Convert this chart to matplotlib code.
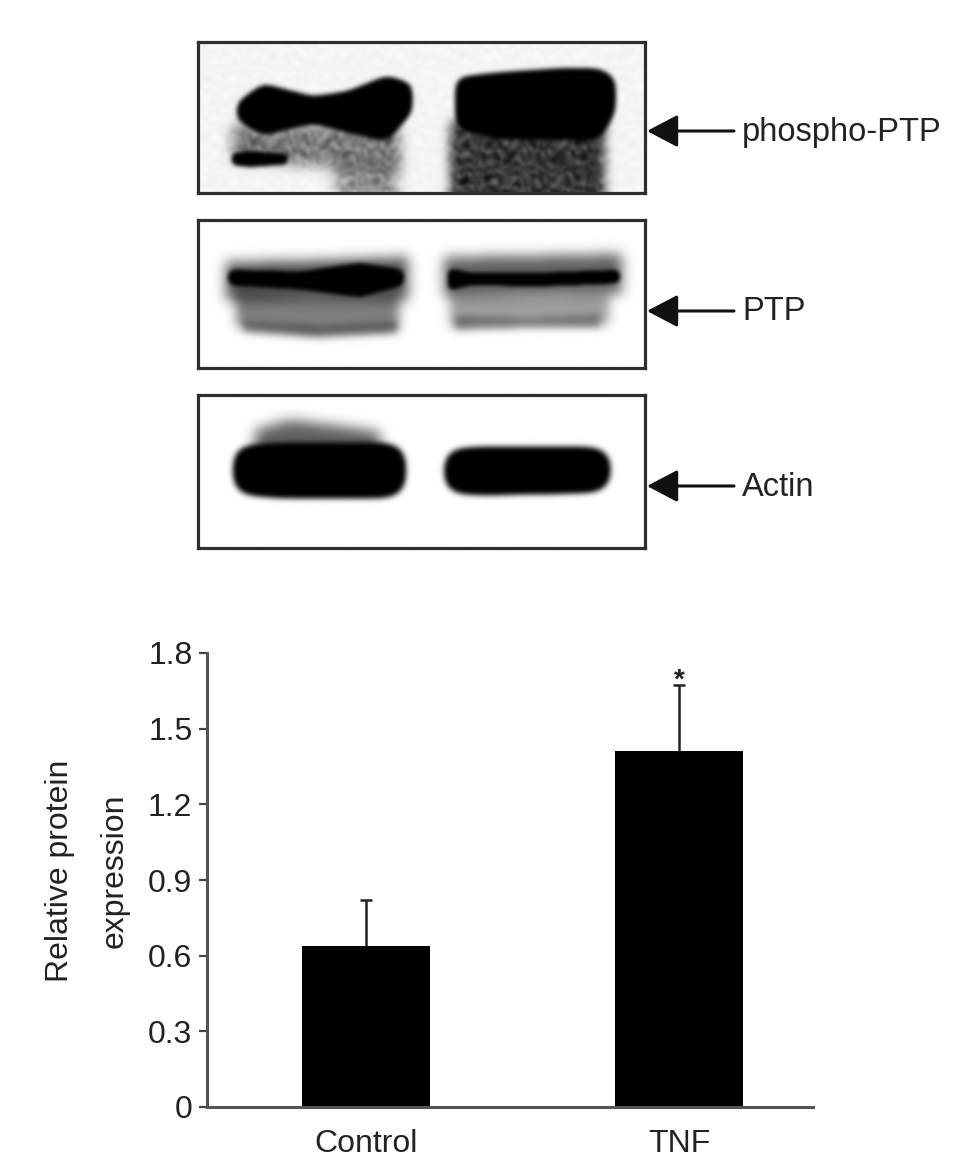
import matplotlib
matplotlib.use('Agg')
import matplotlib.pyplot as plt
import numpy as np

W, H = 969, 1174
plt.rcParams['font.family'] = ['Liberation Sans', 'DejaVu Sans']

categories = ['Control', 'TNF']
expression = [0.64, 1.41]
errors = [0.18, 0.263]
y_ticks = [0, 0.3, 0.6, 0.9, 1.2, 1.5, 1.8]
y_tick_labels = ['0', '0.3', '0.6', '0.9', '1.2', '1.5', '1.8']
blot_labels = ['phospho-PTP', 'PTP', 'Actin']

# bands: xs, tops, bottoms, strength, softness, speckle
phospho_bands = [
    ([237, 263, 313, 347, 387, 412], [103, 84, 97, 92, 76, 84], [120, 135, 123, 132, 141, 112], 1.5, 6, 0),
    ([456, 500, 560, 600, 615], [78, 73, 69, 69, 78], [128, 139, 139, 139, 112], 1.6, 7, 0),
    ([232, 300, 400], [125, 126, 128], [160, 165, 172], 0.5, 6, 0.6),
    ([232, 250, 288], [153, 151, 154], [165, 167, 164], 1.2, 2.5, 0),
    ([335, 397], [160, 165], [192, 196], 0.42, 6, 0.6),
    ([450, 605], [122, 122], [200, 200], 0.78, 5, 0.45),
]
ptp_bands = [
    ([228, 300, 360, 404], [270, 272, 263, 270], [285, 289, 297, 285], 1.5, 4, 0),
    ([226, 300, 408], [262, 261, 257], [300, 300, 300], 0.68, 6, 0),
    ([236, 310, 399], [292, 296, 294], [326, 334, 330], 0.5, 5, 0),
    ([243, 320, 397], [321, 326, 322], [332, 337, 333], 0.42, 3, 0),
    ([448, 470, 540, 620], [268, 273, 273, 270], [291, 285, 286, 283], 1.5, 3.5, 0),
    ([444, 520, 622], [257, 256, 254], [296, 296, 294], 0.62, 6, 0),
    ([450, 530, 609], [292, 296, 293], [327, 324, 324], 0.38, 5, 0),
    ([455, 530, 600], [316, 318, 315], [330, 328, 328], 0.36, 3, 0),
]
actin_bands = [
    ([234, 280, 390, 405], [447, 444, 444, 447], [493, 497, 497, 493], 1.6, 11, 0),
    ([255, 290, 340, 380], [430, 420, 426, 432], [458, 458, 458, 458], 0.62, 6, 0),
    ([445, 480, 590, 610], [450, 448, 448, 450], [492, 494, 492, 489], 1.6, 11, 0),
]

blot_boxes = [(198, 42, 645, 193), (198, 220, 645, 368), (198, 395, 645, 548)]
arrow_rows = [131, 311, 486]


def fig_axes(fig, x0, y0, x1, y1):
    '''Axes placed by pixel box, y counted from the top of the figure.'''
    return fig.add_axes([x0 / W, 1 - y1 / H, (x1 - x0) / W, (y1 - y0) / H])


def smooth(v):
    v = np.clip(v, 0, 1)
    return v * v * (3 - 2 * v)


def blur(img, sigma):
    r = int(3 * sigma) + 1
    k = np.exp(-0.5 * (np.arange(-r, r + 1) / sigma) ** 2)
    k /= k.sum()
    out = np.pad(img, r, mode='edge')
    out = np.apply_along_axis(lambda m: np.convolve(m, k, mode='same'), 0, out)
    out = np.apply_along_axis(lambda m: np.convolve(m, k, mode='same'), 1, out)
    return out[r:-r, r:-r]


def blot_image(box, bands, background=0.0):
    x0, y0, x1, y1 = box
    xx, yy = np.meshgrid(np.arange(x0, x1) + 0.5, np.arange(y0, y1) + 0.5)
    # fixed interference pattern gives the film its grain, bent so it does not look woven
    u = xx + 7 * np.sin(yy * 0.13) + 4 * np.sin(yy * 0.31 + 1.0)
    v = yy + 7 * np.sin(xx * 0.11 + 1.0) + 4 * np.sin(xx * 0.27)
    grain = (np.sin(u * 0.83 + v * 0.61) + np.sin(u * 0.47 - v * 0.91)
             + np.sin(u * 1.13 + v * 0.23 + 1.0) + np.sin(u * 0.29 + v * 1.07 + 2.0)
             + np.sin(u * 0.61 - v * 0.37 + 4.0) + np.sin(u * 0.19 - v * 0.53 + 0.5)) / 3.5
    clear = np.ones_like(xx)
    for xs, tops, bottoms, strength, soft, speckle in bands:
        top = np.interp(xx, xs, tops)
        bottom = np.interp(xx, xs, bottoms)
        mask = ((yy > top) & (yy < bottom) & (xx > xs[0]) & (xx < xs[-1])).astype(float)
        if strength > 1:
            d = smooth((blur(mask, soft) - 0.3) / 0.4)
        else:
            d = blur(mask, soft)
        d = d * strength * (1 + speckle * grain)
        clear *= 1 - np.clip(d, 0, 1)
    clear *= 1 - background * (1 + grain)
    return blur(clear, 2.0)


fig = plt.figure(figsize=(W / 100, H / 100), dpi=100)

for box, bands, bg in zip(blot_boxes, [phospho_bands, ptp_bands, actin_bands], [0.04, 0.004, 0.004]):
    ax = fig_axes(fig, *box)
    ax.imshow(blot_image(box, bands, bg), cmap='gray', vmin=0, vmax=1, aspect='auto',
              interpolation='bilinear')
    ax.set_xticks([])
    ax.set_yticks([])
    for s in ax.spines.values():
        s.set_linewidth(2.3)
        s.set_color('#2e2e2e')

overlay = fig.add_axes([0, 0, 1, 1])
overlay.set_xlim(0, W)
overlay.set_ylim(H, 0)
overlay.axis('off')
overlay.patch.set_alpha(0)
for row, label in zip(arrow_rows, blot_labels):
    overlay.annotate('', xy=(647, row), xytext=(734, row),
                     arrowprops=dict(arrowstyle='-|>,head_length=0.95,head_width=0.5',
                                     mutation_scale=20, lw=2.2, color='#111111',
                                     shrinkA=0, shrinkB=0))
    overlay.text(742, row + 1, label, fontsize=23.5, color='#222222', va='center', ha='left')

ax = fig_axes(fig, 207, 653, 813, 1107)
positions = np.arange(len(categories))
tops = np.array(expression) + np.array(errors)
ax.vlines(positions, expression, tops, color='#222222', lw=1.8)
ax.plot(positions, tops, ls='none', marker='_', ms=8, mew=1.8, color='#222222')
ax.bar(positions, expression, width=0.408, color='black')
ax.text(positions[1], tops[1] - 0.035, '*', fontsize=20, fontweight='bold',
        ha='center', va='bottom', color='#222222')

ax.set_xlim(-0.507, 1.426)
ax.set_ylim(0, 1.8)
ax.set_xticks(positions, categories)
ax.set_yticks(y_ticks, y_tick_labels)
ax.tick_params(axis='y', length=5.5, width=1.6, color='#444444', labelsize=23,
               labelcolor='#222222', pad=5)
ax.tick_params(axis='x', length=0, labelsize=23, labelcolor='#222222', pad=16)
ax.spines['top'].set_visible(False)
ax.spines['right'].set_visible(False)
ax.spines['left'].set_linewidth(2.2)
ax.spines['left'].set_color('#555555')
ax.spines['bottom'].set_linewidth(2.2)
ax.spines['bottom'].set_color('#555555')
ax.set_ylabel('Relative protein\nexpression', fontsize=23, color='#222222',
              linespacing=2.05, ha='center')
ax.yaxis.set_label_coords(-0.128, 0.52)

fig.savefig('out.png', dpi=100)
plt.close(fig)
